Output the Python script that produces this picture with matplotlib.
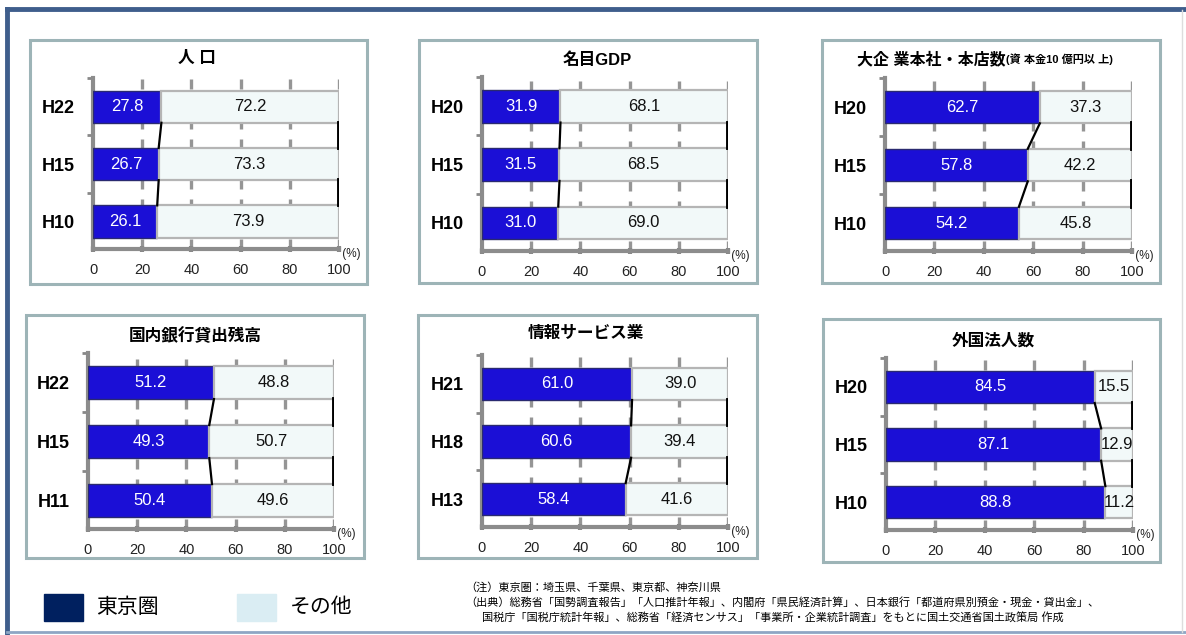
import matplotlib
matplotlib.use("Agg")
import matplotlib.pyplot as plt
from matplotlib.patches import Rectangle
from matplotlib.lines import Line2D

plt.rcParams['font.family'] = ['Liberation Sans', 'Noto Sans CJK JP', 'DejaVu Sans']

W, H = 1186, 635

# データ（上から順）
pop_years = ["H22", "H15", "H10"]
pop_tokyo = [27.8, 26.7, 26.1]
pop_other = [72.2, 73.3, 73.9]

gdp_years = ["H20", "H15", "H10"]
gdp_tokyo = [31.9, 31.5, 31.0]
gdp_other = [68.1, 68.5, 69.0]

hq_years = ["H20", "H15", "H10"]
hq_tokyo = [62.7, 57.8, 54.2]
hq_other = [37.3, 42.2, 45.8]

loan_years = ["H22", "H15", "H11"]
loan_tokyo = [51.2, 49.3, 50.4]
loan_other = [48.8, 50.7, 49.6]

info_years = ["H21", "H18", "H13"]
info_tokyo = [61.0, 60.6, 58.4]
info_other = [39.0, 39.4, 41.6]

forg_years = ["H20", "H15", "H10"]
forg_tokyo = [84.5, 87.1, 88.8]
forg_other = [15.5, 12.9, 11.2]

xticks = [0, 20, 40, 60, 80, 100]

BLUE = '#1b0fd6'
OTHER = '#f2f9f9'

fig = plt.figure(figsize=(W / 100, H / 100), dpi=100)


def fx(x):
    return x / W


def fy(y):
    return 1 - y / H


def box(x0, y0, x1, y1):
    fig.patches.append(Rectangle((fx(x0), fy(y1)), fx(x1) - fx(x0), fy(y0) - fy(y1),
                                 transform=fig.transFigure, fill=False,
                                 edgecolor='#9db4b7', lw=2.2))


def panel(rect, years, tokyo, other, title_xy, title):
    x0, y0, x1, y1 = rect
    ax = fig.add_axes([fx(x0), fy(y1), fx(x1) - fx(x0), fy(y0) - fy(y1)])
    yrs = years[::-1]
    tk = tokyo[::-1]
    ot = other[::-1]
    pos = list(range(len(yrs)))
    h = 0.56
    for x in xticks[1:]:
        ax.axvline(x, color='#959595', lw=2.4, ls=(0, (3, 3)), zorder=0)
    ax.barh(pos, tk, height=h, color=BLUE, edgecolor='#2a2a70', lw=1, zorder=3)
    ax.barh(pos, ot, left=tk, height=h, color=OTHER, edgecolor='#b5b5b5', lw=1.6, zorder=3)
    for p, a, b in zip(pos, tk, ot):
        ax.text(a / 2, p, f"{a:.1f}", color='white', ha='center', va='center',
                fontsize=12, zorder=5)
        ax.text(a + b / 2, p, f"{b:.1f}", color='#111111', ha='center', va='center',
                fontsize=12, zorder=5)
    # 系列線
    for i in range(len(pos) - 1):
        ax.plot([tk[i], tk[i + 1]], [pos[i] + h / 2, pos[i + 1] - h / 2],
                color='black', lw=1.6, zorder=4)
        ax.plot([100, 100], [pos[i] + h / 2, pos[i + 1] - h / 2],
                color='black', lw=2.8, zorder=4)
    ax.set_xlim(0, 100)
    ax.set_ylim(-0.48, len(pos) - 0.52)
    ax.set_yticks(pos)
    ax.set_yticklabels(yrs, fontsize=13, fontweight='bold')
    ax.set_yticks([p + 0.5 for p in pos], minor=True)
    ax.tick_params(axis='y', which='major', length=0, pad=13)
    ax.tick_params(axis='y', which='minor', length=4, width=2, color='#888888')
    ax.set_xticks(xticks)
    ax.set_xticklabels([str(t) for t in xticks], fontsize=10.5, color='#222222')
    ax.tick_params(axis='x', length=4, width=3, color='#888888', direction='inout', pad=8)
    for s in ['top', 'right']:
        ax.spines[s].set_visible(False)
    for s in ['left', 'bottom']:
        ax.spines[s].set_color('#8c8c8c')
        ax.spines[s].set_linewidth(3)
    ax.patch.set_alpha(0)
    ax.text(1.0, -0.03, " (%)", transform=ax.transAxes, fontsize=8.5, ha='left', va='center',
            color='#222222')
    if isinstance(title, tuple):
        fig.text(fx(title_xy[0]), fy(title_xy[1]), title[0], fontsize=11.5, fontweight='bold',
                 ha='right', va='center')
        fig.text(fx(title_xy[0]), fy(title_xy[1]), title[1], fontsize=8, fontweight='bold',
                 ha='left', va='center')
    else:
        fig.text(fx(title_xy[0]), fy(title_xy[1]), title, fontsize=12, fontweight='bold',
                 ha='center', va='center')
    return ax


# 外枠
fig.add_artist(Line2D([fx(7), fx(1186)], [fy(9), fy(9)], color='#3f5e8c', lw=3.5))
fig.add_artist(Line2D([fx(7), fx(7)], [fy(9), fy(635)], color='#3f5e8c', lw=3.5))
fig.add_artist(Line2D([fx(7), fx(1186)], [fy(632), fy(632)], color='#8ea6c4', lw=2))
fig.add_artist(Line2D([fx(1182), fx(1182)], [fy(10), fy(632)], color='#dddddd', lw=1))

box(30, 40, 367, 284)
box(419, 40, 757, 283)
box(822, 40, 1160, 283)
box(26, 315, 364, 558)
box(418, 315, 757, 558)
box(823, 319, 1160, 562)

panel((93, 78, 339, 249), pop_years, pop_tokyo, pop_other, (197, 58), "人 口")
panel((482, 77, 728, 251), gdp_years, gdp_tokyo, gdp_other, (597, 60), "名目GDP")
panel((885, 78, 1132, 251), hq_years, hq_tokyo, hq_other, (1006, 59),
      ("大企 業本社・本店数", "(資 本金10 億円以 上)"))
panel((88, 353, 334, 529), loan_years, loan_tokyo, loan_other, (195, 336), "国内銀行貸出残高")
panel((482, 355, 728, 527), info_years, info_tokyo, info_other, (586, 333), "情報サービス業")
panel((886, 358, 1133, 530), forg_years, forg_tokyo, forg_other, (993, 341), "外国法人数")

# 凡例
fig.patches.append(Rectangle((fx(44), fy(621)), fx(39), 27 / H, transform=fig.transFigure,
                             color='#00205f'))
fig.text(fx(96), fy(607), "東京圏", fontsize=15, va='center', ha='left')
fig.patches.append(Rectangle((fx(237), fy(621)), fx(39), 27 / H, transform=fig.transFigure,
                             color='#daedf3'))
fig.text(fx(290), fy(607), "その他", fontsize=15, va='center', ha='left')

# 注記
notes = [
    (465, 587, "（注）東京圏：埼玉県、千葉県、東京都、神奈川県"),
    (465, 602, "（出典）総務省「国勢調査報告」「人口推計年報」、内閣府「県民経済計算」、日本銀行「都道府県別預金・現金・貸出金」、"),
    (482, 618, "国税庁「国税庁統計年報」、総務省「経済センサス」「事業所・企業統計調査」をもとに国土交通省国土政策局 作成"),
]
for x, y, t in notes:
    fig.text(fx(x), fy(y), t, fontsize=8, va='center', ha='left')

fig.savefig("out.png", dpi=100)
